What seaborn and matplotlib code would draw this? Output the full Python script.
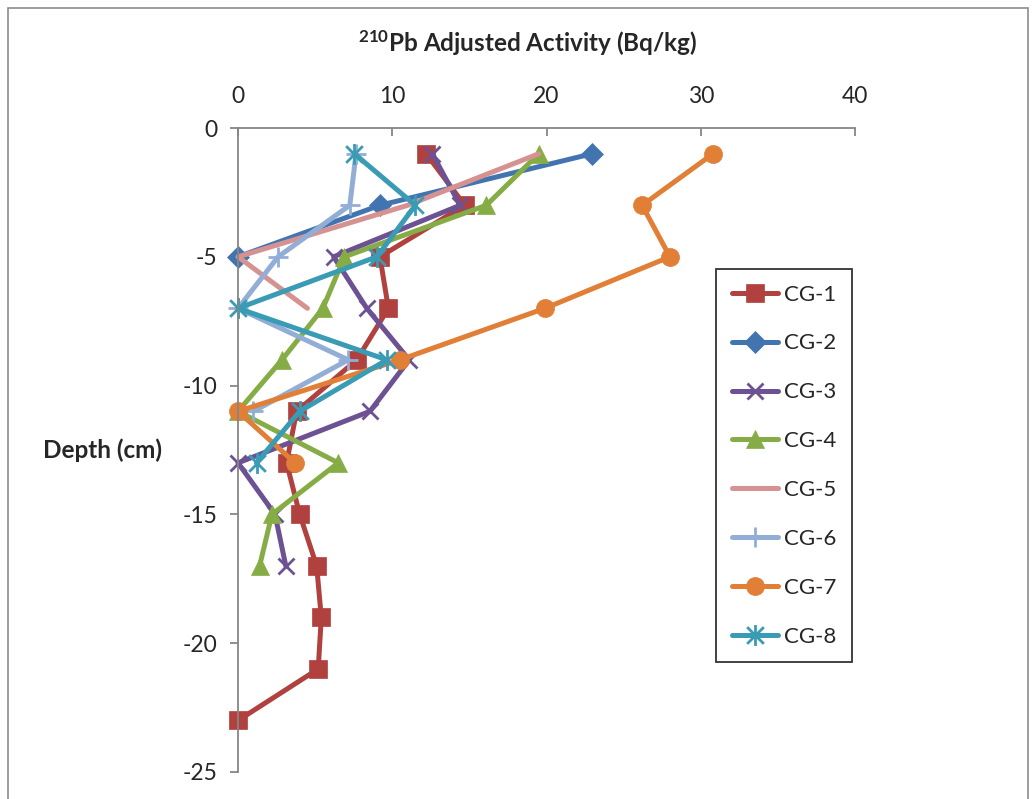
import numpy as np
import pandas as pd
import matplotlib
matplotlib.use("Agg")
import matplotlib.pyplot as plt
import seaborn as sns
from matplotlib.path import Path
from matplotlib.patches import Rectangle

sns.set_style("white")
plt.rcParams['font.family'] = ['Lato', 'DejaVu Sans']
plt.rcParams['axes.unicode_minus'] = False
plt.rcParams['mathtext.fontset'] = 'custom'
plt.rcParams['mathtext.rm'] = 'Lato'
plt.rcParams['mathtext.bf'] = 'Lato:bold'

series_names = ["CG-1", "CG-2", "CG-3", "CG-4", "CG-5", "CG-6", "CG-7", "CG-8"]
depths = [-1, -3, -5, -7, -9, -11, -13, -15, -17, -19, -21, -23]

cg1 = [12.2, 14.7, 9.2, 9.75, 7.7, 3.8, 3.15, 4.0, 5.1, 5.4, 5.2, 0.0]
cg2 = [22.95, 9.2, 0.0]
cg3 = [12.6, 14.4, 6.2, 8.35, 11.1, 8.55, 0.0, 2.4, 3.1]
cg4 = [19.5, 16.1, 6.9, 5.5, 2.85, 0.0, 6.5, 2.2, 1.4]
cg5 = [19.5, 11.0, 0.0, 4.5]
cg6 = [7.65, 7.25, 2.6, 0.0, 7.15, 1.0]
cg7 = [30.8, 26.2, 28.0, 19.9, 10.5, 0.0, 3.7]
cg8 = [7.55, 11.5, 9.0, 0.0, 9.65, 4.0, 1.2]
all_values = [cg1, cg2, cg3, cg4, cg5, cg6, cg7, cg8]

x_ticks = [0, 10, 20, 30, 40]
y_ticks = [0, -5, -10, -15, -20, -25]

colors = ['#B0413E', '#4275B0', '#6D5293', '#86AD45', '#D59291', '#93AED6', '#E07F35', '#3A9BB5']

# asterisk marker (Excel style)
ast = Path([(0, -1), (0, 1), (-0.8, -0.8), (0.8, 0.8), (-0.8, 0.8), (0.8, -0.8)],
           [Path.MOVETO, Path.LINETO, Path.MOVETO, Path.LINETO, Path.MOVETO, Path.LINETO])
markers = ['s', 'D', 'x', '^', 'None', '+', 'o', ast]
msizes = [13, 11, 12, 13, 0, 14, 13, 15]
mews = [0.5, 0.5, 2.0, 0.5, 0, 2.0, 0.5, 2.0]

fig = plt.figure(figsize=(10.35, 7.99), dpi=100)
fig.patches.append(Rectangle((8 / 1035, -0.05), 1020 / 1035, 1 - 8 / 799 + 0.05,
                             transform=fig.transFigure, fill=False,
                             edgecolor='#8C8C8C', linewidth=1.2))
ax = fig.add_axes([238 / 1035, 1 - 772 / 799, 617 / 1035, 644 / 799])

for name, vals, c, m, ms, mew in zip(series_names, all_values, colors, markers, msizes, mews):
    df = pd.DataFrame({"activity": vals, "depth": depths[:len(vals)]})
    sns.lineplot(data=df, x="activity", y="depth", ax=ax, sort=False, estimator=None,
                 color=c, linewidth=3.6, marker=m, markersize=ms,
                 markeredgecolor=c, markerfacecolor=c, markeredgewidth=mew,
                 label=name, clip_on=False)

ax.set_xlim(0, 40)
ax.set_ylim(-25, 0)
ax.set_xticks(x_ticks)
ax.set_yticks(y_ticks)
ax.xaxis.tick_top()
ax.xaxis.set_label_position('top')
for s in ['right', 'bottom']:
    ax.spines[s].set_visible(False)
for s in ['left', 'top']:
    ax.spines[s].set_color('#868686')
    ax.spines[s].set_linewidth(1.3)
ax.tick_params(axis='x', direction='in', length=6, width=1.3, color='#868686',
               labelsize=16.5, pad=15, top=True, bottom=False)
ax.tick_params(axis='y', direction='out', length=6, width=1.3, color='#868686',
               labelsize=16.5, pad=9, left=True)

ax.set_xlabel(r"$\mathbf{^{210}}$Pb Adjusted Activity (Bq/kg)", fontsize=17.5, fontweight='bold')
ax.xaxis.set_label_coords(0.47, 1.118)
ax.set_ylabel("Depth (cm)", fontsize=17.5, fontweight='bold', rotation=0, ha='center', va='center')
ax.yaxis.set_label_coords(-0.219, 0.5)

leg = ax.legend(loc='upper left', bbox_to_anchor=(716 / 1035, 1 - 269 / 799),
                bbox_transform=fig.transFigure, frameon=True, fancybox=False,
                edgecolor='black', fontsize=16, handlelength=2.1, labelspacing=1.3,
                borderpad=0.7, handletextpad=0.25, borderaxespad=0)
leg.get_frame().set_linewidth(1.3)

fig.savefig("out.png", dpi=100)
